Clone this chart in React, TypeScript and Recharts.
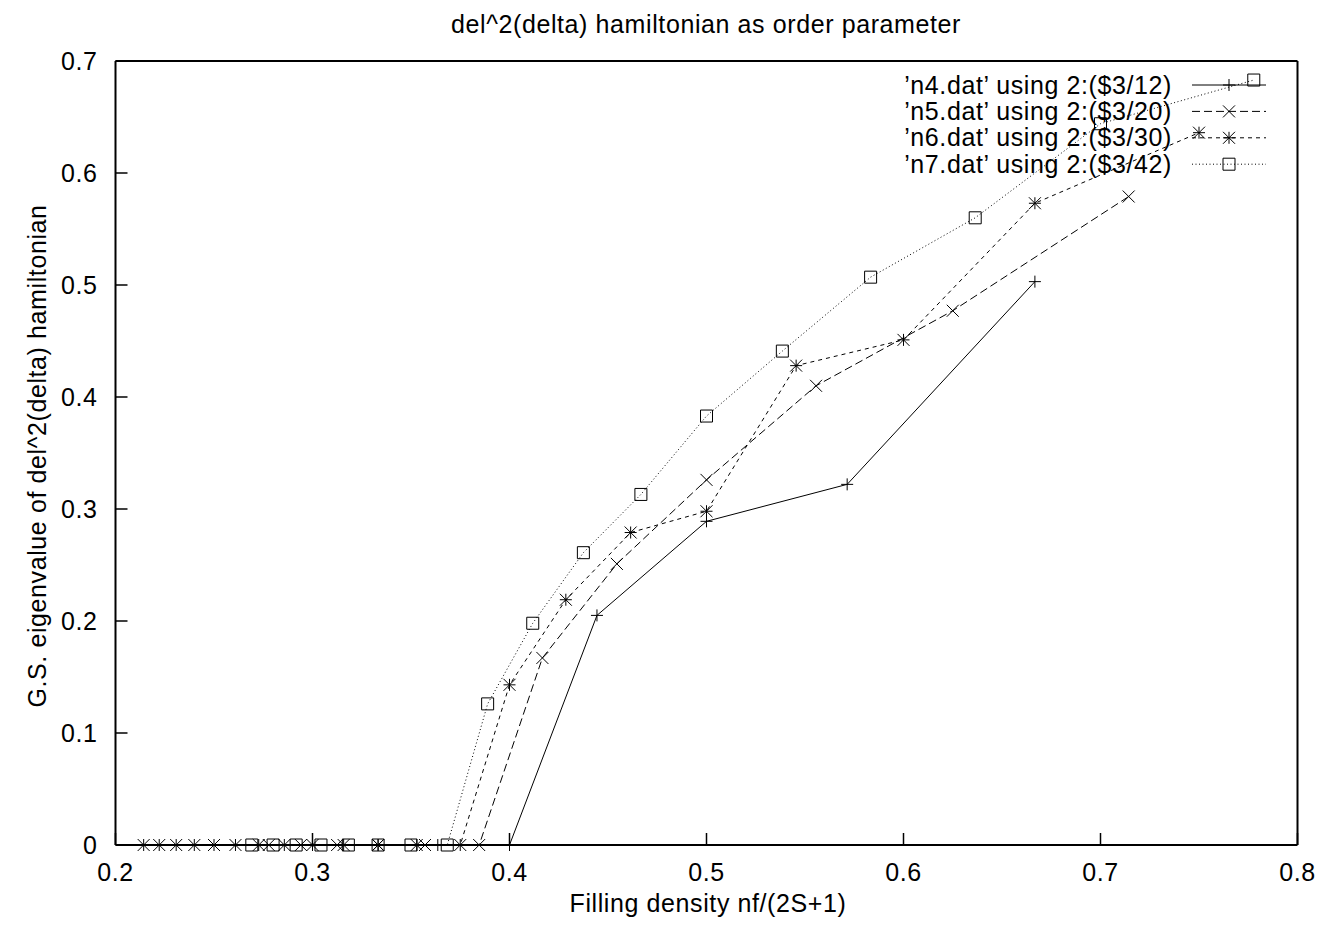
import React from 'react'
import { LineChart, Line, XAxis, YAxis } from 'recharts'

const xTicks = [0.2, 0.3, 0.4, 0.5, 0.6, 0.7, 0.8]
const yTicks = [0, 0.1, 0.2, 0.3, 0.4, 0.5, 0.6, 0.7]

// x = filling density nf/(2S+1), y = G.S. eigenvalue (scaled)
const n4X = [0.3333, 0.3636, 0.4, 0.4444, 0.5, 0.5714, 0.6667]
const n4Y = [0, 0, 0, 0.205, 0.289, 0.322, 0.503]

const n5X = [0.2778, 0.2941, 0.3125, 0.3333, 0.3571, 0.3846, 0.4167, 0.4545, 0.5, 0.5556, 0.625, 0.7143]
const n5Y = [0, 0, 0, 0, 0, 0, 0.167, 0.251, 0.326, 0.41, 0.477, 0.579]

const n6X = [
  0.2143, 0.2222, 0.2308, 0.24, 0.25, 0.2609, 0.2727, 0.2857, 0.3, 0.3158, 0.3333, 0.3529, 0.375,
  0.4, 0.4286, 0.4615, 0.5, 0.5455, 0.6, 0.6667, 0.75,
]
const n6Y = [0, 0, 0, 0, 0, 0, 0, 0, 0, 0, 0, 0, 0, 0.143, 0.219, 0.279, 0.298, 0.428, 0.451, 0.573, 0.636]

const n7X = [
  0.2692, 0.28, 0.2917, 0.3043, 0.3182, 0.3333, 0.35, 0.3684, 0.3889, 0.4118, 0.4375, 0.4667, 0.5,
  0.5385, 0.5833, 0.6364, 0.7, 0.7778,
]
const n7Y = [0, 0, 0, 0, 0, 0, 0, 0, 0.126, 0.198, 0.261, 0.313, 0.383, 0.441, 0.507, 0.56, 0.644, 0.683]

type Kind = 'plus' | 'cross' | 'star' | 'box'

const series: { name: string; xs: number[]; ys: number[]; kind: Kind; dash?: string }[] = [
  { name: '’n4.dat’ using 2:($3/12)', xs: n4X, ys: n4Y, kind: 'plus' },
  { name: '’n5.dat’ using 2:($3/20)', xs: n5X, ys: n5Y, kind: 'cross', dash: '8 4' },
  { name: '’n6.dat’ using 2:($3/30)', xs: n6X, ys: n6Y, kind: 'star', dash: '4 4' },
  { name: '’n7.dat’ using 2:($3/42)', xs: n7X, ys: n7Y, kind: 'box', dash: '1 2.5' },
]

const FONT = 25
const ink = { stroke: '#000', strokeWidth: 2 }
const tickInk = { stroke: '#000', strokeWidth: 1.5 }

function Marker({ cx, cy, kind }: { cx: number; cy: number; kind: Kind }) {
  const s = 6
  const plus = `M${cx - s},${cy}H${cx + s}M${cx},${cy - s}V${cy + s}`
  const cross = `M${cx - s},${cy - s}L${cx + s},${cy + s}M${cx - s},${cy + s}L${cx + s},${cy - s}`
  let d = plus
  if (kind === 'cross') d = cross
  if (kind === 'star') d = plus + cross
  if (kind === 'box') d = `M${cx - s},${cy - s}H${cx + s}V${cy + s}H${cx - s}Z`
  return <path d={d} stroke="#000" strokeWidth={1} fill="none" />
}

function KeyBox() {
  return (
    <g fontSize={FONT} fill="#000">
      {series.map((s, i) => {
        const y = 85 + i * 26.4
        return (
          <g key={s.name}>
            <text x={1172} y={y + 8.5} textAnchor="end">
              {s.name}
            </text>
            <line x1={1192} x2={1266} y1={y} y2={y} stroke="#000" strokeWidth={1} strokeDasharray={s.dash} />
            <Marker cx={1229} cy={y} kind={s.kind} />
          </g>
        )
      })}
    </g>
  )
}

const fmt = (v: number) => (v === 0 ? '0' : v.toFixed(1))
const noTick = () => <g />

export default function App() {
  return (
    <div
      style={{
        position: 'absolute',
        left: 0,
        top: 0,
        background: '#fff',
        fontFamily: '"Liberation Sans", Arial, sans-serif',
        letterSpacing: '0.6px',
      }}
    >
      <LineChart width={1321} height={925} margin={{ top: 41, right: 3.5, bottom: 40, left: 55.5 }}>
        <XAxis
          type="number"
          dataKey="x"
          domain={[0.2, 0.8]}
          ticks={xTicks}
          interval={0}
          height={40}
          tickSize={-12}
          tickMargin={30}
          axisLine={ink}
          tickLine={tickInk}
          tick={{ fontSize: FONT, fill: '#000' }}
          tickFormatter={fmt}
        />
        <XAxis
          xAxisId="top"
          orientation="top"
          type="number"
          dataKey="x"
          domain={[0.2, 0.8]}
          ticks={xTicks}
          interval={0}
          height={20}
          tickSize={-12}
          axisLine={ink}
          tickLine={tickInk}
          tick={noTick}
        />
        <YAxis
          type="number"
          domain={[0, 0.7]}
          ticks={yTicks}
          interval={0}
          width={60}
          tickSize={-12}
          tickMargin={30}
          axisLine={ink}
          tickLine={tickInk}
          tick={{ fontSize: FONT, fill: '#000' }}
          tickFormatter={fmt}
        />
        <YAxis
          yAxisId="right"
          orientation="right"
          type="number"
          domain={[0, 0.7]}
          ticks={yTicks}
          interval={0}
          width={20}
          tickSize={-12}
          axisLine={ink}
          tickLine={tickInk}
          tick={noTick}
        />
        {series.map((s) => (
          <Line
            key={s.name}
            type="linear"
            data={s.xs.map((x, i) => ({ x, y: s.ys[i] }))}
            dataKey="y"
            stroke="#000"
            strokeWidth={1}
            strokeDasharray={s.dash}
            activeDot={false}
            isAnimationActive={false}
            dot={(p: any) => <Marker key={`${s.kind}-${p.index}`} cx={p.cx} cy={p.cy} kind={s.kind} />}
          />
        ))}
        <KeyBox />
        <text x={706} y={32.5} textAnchor="middle" fontSize={FONT} fill="#000">
          del^2(delta) hamiltonian as order parameter
        </text>
        <text x={708} y={912} textAnchor="middle" fontSize={FONT} fill="#000">
          Filling density nf/(2S+1)
        </text>
        <text transform="translate(46,456) rotate(-90)" textAnchor="middle" fontSize={FONT} fill="#000">
          G.S. eigenvalue of del^2(delta) hamiltonian
        </text>
      </LineChart>
    </div>
  )
}
